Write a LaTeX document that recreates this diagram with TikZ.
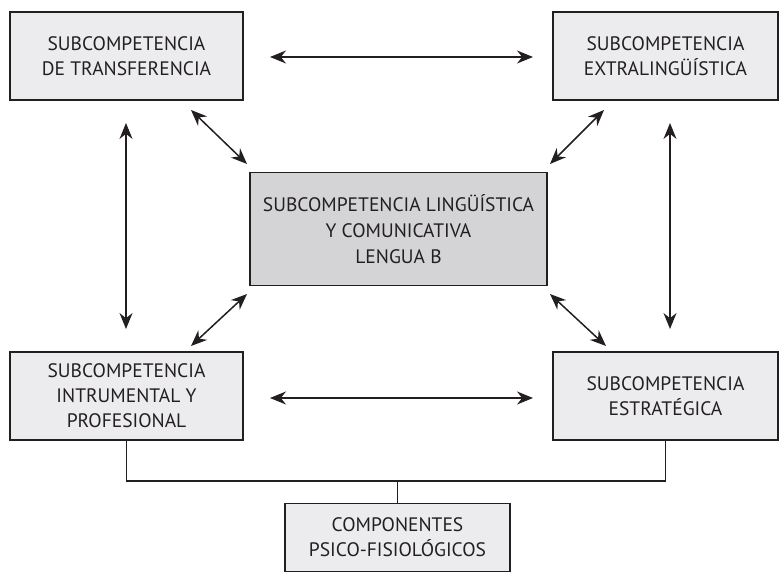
\documentclass[tikz,border=0pt]{standalone}
\usepackage{fontspec}
\setmainfont{PT Sans}
\usetikzlibrary{arrows.meta}
\definecolor{ink}{HTML}{231F20}
\definecolor{boxfill}{HTML}{ECECEE}
\definecolor{centerfill}{HTML}{D4D4D6}
\tikzset{
  sbox/.style={draw=ink, line width=1.6pt, fill=boxfill, text=ink, align=center,
    inner sep=0pt, font=\fontsize{19.5}{25}\selectfont},
  dblarrow/.style={draw=ink, line width=1.5pt,
    {Stealth[length=16pt,width=13pt]}-{Stealth[length=16pt,width=13pt]}},
  link/.style={draw=ink, line width=1.4pt}
}
\begin{document}
\begin{tikzpicture}[x=1pt,y=-1pt]
\useasboundingbox (0,0) rectangle (779,572);
\node[sbox, minimum width=233pt, minimum height=88pt] (tl) at (126.5,56) {SUBCOMPETENCIA\\DE TRANSFERENCIA};
\node[sbox, minimum width=225pt, minimum height=88pt] (tr) at (665.5,56) {SUBCOMPETENCIA\\EXTRALINGÜÍSTICA};
\node[sbox, fill=centerfill, minimum width=297pt, minimum height=113pt, font=\fontsize{19.5}{26}\selectfont] (c) at (398.5,229) {SUBCOMPETENCIA LINGÜÍSTICA\\Y COMUNICATIVA\\LENGUA B};
\node[sbox, minimum width=233pt, minimum height=88pt] (bl) at (126.5,396) {SUBCOMPETENCIA\\INTRUMENTAL Y\\PROFESIONAL};
\node[sbox, minimum width=225pt, minimum height=88pt] (br) at (665.5,396) {SUBCOMPETENCIA\\ESTRATÉGICA};
\node[sbox, minimum width=225pt, minimum height=68pt] (b) at (397.5,537.5) {COMPONENTES\\PSICO-FISIOLÓGICOS};
% arrow end points
\coordinate (th1) at (270,57); \coordinate (th2) at (533,57);
\coordinate (bh1) at (270,398); \coordinate (bh2) at (533,398);
\coordinate (lv1) at (126,123); \coordinate (lv2) at (126,329);
\coordinate (rv1) at (670,123); \coordinate (rv2) at (670,329);
\coordinate (d1a) at (191,110); \coordinate (d1b) at (247,164);
\coordinate (d2a) at (604,110); \coordinate (d2b) at (550,164);
\coordinate (d3a) at (247,294); \coordinate (d3b) at (191,346);
\coordinate (d4a) at (550,294); \coordinate (d4b) at (606,346);
\draw[dblarrow] (th1) -- (th2);
\draw[dblarrow] (bh1) -- (bh2);
\draw[dblarrow] (lv1) -- (lv2);
\draw[dblarrow] (rv1) -- (rv2);
\draw[dblarrow] (d1a) -- (d1b);
\draw[dblarrow] (d2a) -- (d2b);
\draw[dblarrow] (d3a) -- (d3b);
\draw[dblarrow] (d4a) -- (d4b);
% bottom connectors
\coordinate (jn) at (b.north |- 0,481);
\draw[link] (bl.south) |- (jn) -| (br.south);
\draw[link] (jn) -- (b.north);
\end{tikzpicture}
\end{document}
